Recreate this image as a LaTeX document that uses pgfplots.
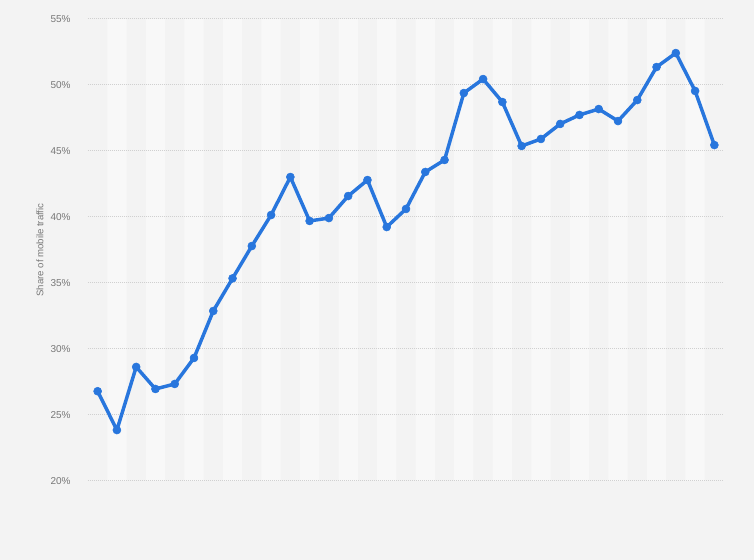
\documentclass[border=0pt]{standalone}
\usepackage{pgfplots}
\pgfplotsset{compat=1.18}
\usepackage{fontspec}
\setmainfont{Liberation Sans}
\definecolor{bg}{HTML}{F3F3F3}
\definecolor{stripe}{HTML}{F8F8F8}
\definecolor{gridc}{HTML}{D0D0D0}
\definecolor{linec}{HTML}{2876DD}
\definecolor{txt}{HTML}{777777}
\begin{document}
\begin{tikzpicture}
\fill[bg] (0,0) rectangle (565.5pt,420pt);
\begin{axis}[
 at={(66pt,59.25pt)}, anchor=south west,
 scale only axis, width=477pt, height=346.5pt,
 xmin=0.5, xmax=33.5, ymin=20, ymax=55,
 axis line style={draw=none}, tick style={draw=none},
 xtick=\empty,
 ytick={20,25,30,35,40,45,50,55},
 yticklabels={20\%,25\%,30\%,35\%,40\%,45\%,50\%,55\%},
 yticklabel style={font=\fontsize{7.5}{9}\selectfont, text=txt, xshift=-9.5pt},
 ylabel={Share of mobile traffic},
 ylabel style={at={(axis description cs:-0.0755,0.5)}, anchor=center, font=\fontsize{7.2}{9}\selectfont, text=txt},
 clip=true,
]
\addplot[ybar, bar width=1, fill=stripe, draw=none] coordinates {
(2,55) (4,55) (6,55) (8,55) (10,55) (12,55) (14,55) (16,55) (18,55) (20,55) (22,55) (24,55) (26,55) (28,55) (30,55) (32,55)};
\addplot[gridc, line width=0.75pt, dash pattern=on 0.75pt off 0.75pt] coordinates {(0.5,20) (33.5,20)};
\addplot[gridc, line width=0.75pt, dash pattern=on 0.75pt off 0.75pt] coordinates {(0.5,25) (33.5,25)};
\addplot[gridc, line width=0.75pt, dash pattern=on 0.75pt off 0.75pt] coordinates {(0.5,30) (33.5,30)};
\addplot[gridc, line width=0.75pt, dash pattern=on 0.75pt off 0.75pt] coordinates {(0.5,35) (33.5,35)};
\addplot[gridc, line width=0.75pt, dash pattern=on 0.75pt off 0.75pt] coordinates {(0.5,40) (33.5,40)};
\addplot[gridc, line width=0.75pt, dash pattern=on 0.75pt off 0.75pt] coordinates {(0.5,45) (33.5,45)};
\addplot[gridc, line width=0.75pt, dash pattern=on 0.75pt off 0.75pt] coordinates {(0.5,50) (33.5,50)};
\addplot[gridc, line width=0.75pt, dash pattern=on 0.75pt off 0.75pt] coordinates {(0.5,55) (33.5,55)};
\addplot[linec, line width=2.6pt, line join=round, mark=*, mark size=3pt, mark options={solid, fill=linec, draw=linec, line width=0.4pt}] coordinates {
(1,26.80) (2,23.86) (3,28.64) (4,26.97) (5,27.35) (6,29.32) (7,32.88) (8,35.35)
(9,37.80) (10,40.15) (11,43.03) (12,39.70) (13,39.92) (14,41.59) (15,42.80) (16,39.24)
(17,40.61) (18,43.41) (19,44.32) (20,49.39) (21,50.45) (22,48.71) (23,45.38) (24,45.91)
(25,47.05) (26,47.73) (27,48.18) (28,47.27) (29,48.86) (30,51.36) (31,52.42) (32,49.55)
(33,45.45)};
\end{axis}
\end{tikzpicture}
\end{document}
